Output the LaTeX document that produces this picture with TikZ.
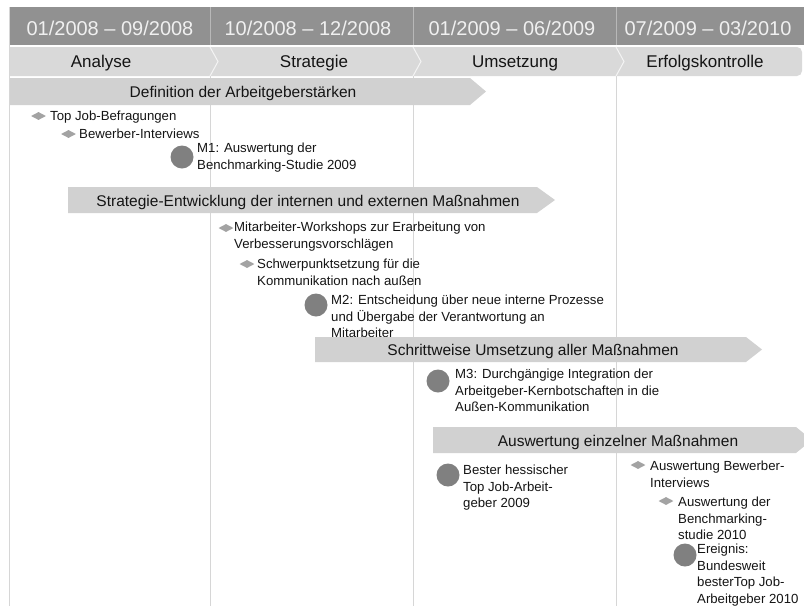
\documentclass[tikz,border=0pt]{standalone}
\usepackage{fontspec}
\setmainfont{Liberation Sans}
\usepackage{tikz}
\usetikzlibrary{positioning,shapes.geometric}
\definecolor{hdrgray}{gray}{0.57}
\definecolor{hdrtext}{gray}{0.94}
\definecolor{sepgray}{gray}{0.72}
\definecolor{phasegray}{gray}{0.85}
\definecolor{bargray}{gray}{0.82}
\definecolor{dotgray}{gray}{0.50}
\definecolor{diagray}{gray}{0.64}
\definecolor{linegray}{gray}{0.84}
\definecolor{txtgray}{gray}{0.08}

\begin{document}
\begin{tikzpicture}[x=1pt, y=-1pt,
  every node/.style={text=txtgray},
  hdr/.style={font=\fontsize{20}{24}\selectfont, text=hdrtext, anchor=base},
  phase/.style={font=\fontsize{17}{20}\selectfont, anchor=base},
  bartext/.style={font=\fontsize{15.5}{18}\selectfont, anchor=base},
  item/.style={font=\fontsize{13.2}{16.5}\selectfont, align=left, anchor=north west, inner sep=0pt},
  dia/.style={diamond, fill=diagray, minimum width=15pt, minimum height=8pt, inner sep=0pt},
  dot/.style={circle, fill=dotgray, minimum size=23pt, inner sep=0pt},
  bar/.style={fill=bargray}]
\useasboundingbox (0,0) rectangle (804,606);

% Grid lines
\draw[linegray] (9.5,7) -- (9.5,606);
\foreach \x in {210,413,616}
  \draw[linegray] (\x,76) -- (\x,606);

% Header with periods
\fill[hdrgray] (10,7) rectangle (804,45);
\foreach \x in {210,413,616}
  \draw[sepgray, line width=1pt] (\x,7) -- (\x,45);
\node[hdr] at (110,35.5) (p1) {01/2008 – 09/2008};
\node[hdr] at (308,35.5) (p2) {10/2008 – 12/2008};
\node[hdr] at (512,35.5) (p3) {01/2009 – 06/2009};
\node[hdr] at (708,35.5) (p4) {07/2009 – 03/2010};

% Phases
\fill[phasegray] (10,47) {[rounded corners=5pt] -- (802,47) -- (802,76)} -- (10,76) -- cycle;
\foreach \x in {210,413,616}
  \draw[white!70!phasegray, line width=1pt] (\x,47) -- (\x+8,61.5) -- (\x,76);
\node[phase] at (101,67) (analyse) {Analyse};
\node[phase] at (314,67) (strategie) {Strategie};
\node[phase] at (515,67) (umsetzung) {Umsetzung};
\node[phase] at (705,67) (erfolg) {Erfolgskontrolle};

% Bar 1: Analyse
\fill[bar] (10,78) -- (470,78) -- (486,91.5) -- (470,105) -- (10,105) -- cycle;
\node[bartext] at (243,97.5) (bar1) {Definition der Arbeitgeberstärken};

\node[dia] at (38.5,116) (d1) {};
\node[item] at (50,111) (t1) {Top Job-Befragungen};
\node[dia] at (68.5,134) (d2) {};
\node[item] at (79,129) (t2) {Bewerber-Interviews};
\node[dot] at (182,157) (m1) {};
\node[item] at (197,143) (t3) {M1: Auswertung der\\Benchmarking-Studie 2009};

% Bar 2: Strategie
\fill[bar] (68,187) -- (537,187) -- (555,200) -- (537,213) -- (68,213) -- cycle;
\node[bartext] at (308,206) (bar2) {Strategie-Entwicklung der internen und externen Maßnahmen};

\node[dia] at (226,228) (d3) {};
\node[item] at (234,222) (t4) {Mitarbeiter-Workshops zur Erarbeitung von\\Verbesserungsvorschlägen};
\node[dia] at (247,264) (d4) {};
\node[item] at (257,259) (t5) {Schwerpunktsetzung für die\\Kommunikation nach außen};
\node[dot] at (316,305) (m2) {};
\node[item] at (331,295) (t6) {M2: Entscheidung über neue interne Prozesse\\und Übergabe der Verantwortung an\\Mitarbeiter};

% Bar 3: Umsetzung
\fill[bar] (315,337) -- (746,337) -- (762,349.5) -- (746,362) -- (315,362) -- cycle;
\node[bartext] at (533,355.5) (bar3) {Schrittweise Umsetzung aller Maßnahmen};

\node[dot] at (438,381) (m3) {};
\node[item] at (455,369) (t7) {M3: Durchgängige Integration der\\Arbeitgeber-Kernbotschaften in die\\Außen-Kommunikation};

% Bar 4: Erfolgskontrolle
\fill[bar] (433,427) -- (796,427) -- (812,440) -- (796,453) -- (433,453) -- cycle;
\node[bartext] at (618,446) (bar4) {Auswertung einzelner Maßnahmen};

\node[dot] at (448,475) (m4) {};
\node[item] at (463,465) (t8) {Bester hessischer\\Top Job-Arbeit-\\geber 2009};
\node[dia] at (638,465) (d5) {};
\node[item] at (650,461) (t9) {Auswertung Bewerber-\\Interviews};
\node[dia] at (666,501) (d6) {};
\node[item] at (678,497) (t10) {Auswertung der\\Benchmarking-\\studie 2010};
\node[dot] at (685,555) (m5) {};
\node[item] at (697,544) (t11) {Ereignis:\\Bundesweit\\besterTop Job-\\Arbeitgeber 2010};
\end{tikzpicture}
\end{document}
